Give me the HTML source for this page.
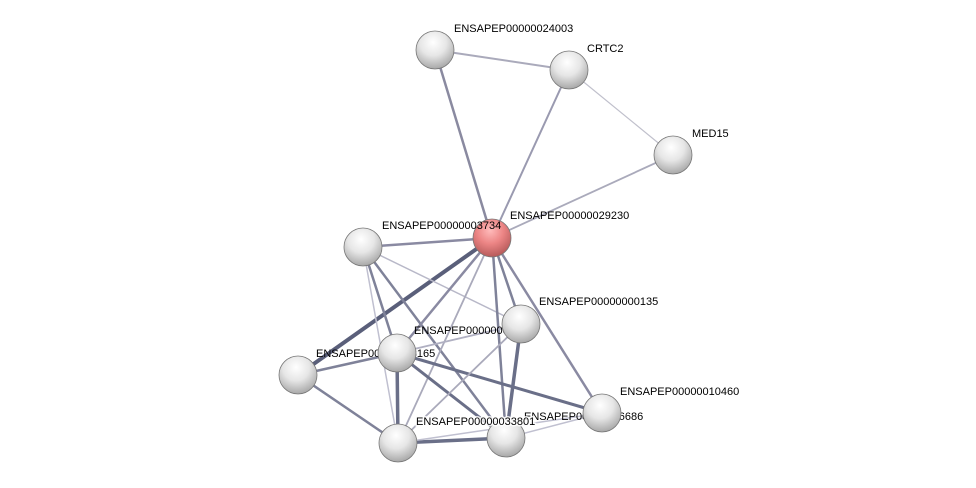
<!DOCTYPE html>
<html><head><meta charset="utf-8"><style>
html,body{margin:0;padding:0;background:#fff;}
svg{display:block;}
text{font-family:"Liberation Sans",sans-serif;font-size:11px;fill:#000;}
.h{stroke:#fff;stroke-width:3px;paint-order:stroke;stroke-opacity:0.85;}
</style></head><body>
<svg width="976" height="488" viewBox="0 0 976 488" xmlns="http://www.w3.org/2000/svg">
<defs>
<radialGradient id="g" cx="45%" cy="30%" r="70%">
<stop offset="0" stop-color="#ffffff"/><stop offset="0.5" stop-color="#e6e6e6"/><stop offset="1" stop-color="#a8a8a8"/>
</radialGradient>
<radialGradient id="r" cx="45%" cy="30%" r="70%">
<stop offset="0" stop-color="#fbb"/><stop offset="0.5" stop-color="#ec8585"/><stop offset="1" stop-color="#b65a5a"/>
</radialGradient>
</defs>
<g stroke-linecap="round">
<line x1="435" y1="50" x2="569" y2="70" stroke="#aaaabb" stroke-width="2"/>
<line x1="435" y1="50" x2="492" y2="238" stroke="#8a8aa0" stroke-width="2.5"/>
<line x1="569" y1="70" x2="492" y2="238" stroke="#9a9ab0" stroke-width="2"/>
<line x1="569" y1="70" x2="673" y2="155" stroke="#c0c0cc" stroke-width="1.2"/>
<line x1="673" y1="155" x2="492" y2="238" stroke="#aaaabb" stroke-width="1.8"/>
<line x1="363" y1="247" x2="492" y2="238" stroke="#8a8aa2" stroke-width="2.5"/>
<line x1="298" y1="375" x2="492" y2="238" stroke="#5a5f7a" stroke-width="4"/>
<line x1="363" y1="247" x2="521" y2="324" stroke="#b8b8c8" stroke-width="1.5"/>
<line x1="363" y1="247" x2="397" y2="353" stroke="#7f8299" stroke-width="2.5"/>
<line x1="363" y1="247" x2="398" y2="443" stroke="#c0c0d0" stroke-width="1.5"/>
<line x1="363" y1="247" x2="506" y2="438" stroke="#7f8299" stroke-width="2.5"/>
<line x1="492" y1="238" x2="397" y2="353" stroke="#8a8aa2" stroke-width="2.5"/>
<line x1="492" y1="238" x2="398" y2="443" stroke="#aaaabb" stroke-width="1.8"/>
<line x1="492" y1="238" x2="506" y2="438" stroke="#7f8299" stroke-width="2.5"/>
<line x1="492" y1="238" x2="521" y2="324" stroke="#7f8299" stroke-width="2.5"/>
<line x1="492" y1="238" x2="602" y2="413" stroke="#8a8aa2" stroke-width="2.5"/>
<line x1="397" y1="353" x2="521" y2="324" stroke="#b0b0c2" stroke-width="1.8"/>
<line x1="298" y1="375" x2="397" y2="353" stroke="#7f8299" stroke-width="2.5"/>
<line x1="298" y1="375" x2="398" y2="443" stroke="#7f8299" stroke-width="2.5"/>
<line x1="397" y1="353" x2="398" y2="443" stroke="#6a6f88" stroke-width="3.5"/>
<line x1="397" y1="353" x2="506" y2="438" stroke="#6a6f88" stroke-width="3"/>
<line x1="397" y1="353" x2="602" y2="413" stroke="#6a6f88" stroke-width="3"/>
<line x1="521" y1="324" x2="506" y2="438" stroke="#6a6f88" stroke-width="3.5"/>
<line x1="521" y1="324" x2="398" y2="443" stroke="#aaaabb" stroke-width="1.8"/>
<line x1="398" y1="443" x2="506" y2="438" stroke="#6a6f88" stroke-width="3.5"/>
<line x1="398" y1="443" x2="602" y2="413" stroke="#c0c0d0" stroke-width="1.5"/>
<line x1="506" y1="438" x2="602" y2="413" stroke="#c0c0d0" stroke-width="1.5"/>
</g>
<text x="454" y="32">ENSAPEP00000024003</text>
<text x="587" y="52">CRTC2</text>
<text x="692" y="137">MED15</text>
<text x="539" y="305">ENSAPEP00000000135</text>
<text x="414" y="334">ENSAPEP00000000143</text>
<text x="316" y="357">ENSAPEP00000008165</text>
<text x="620" y="395">ENSAPEP00000010460</text>
<text x="524" y="420" fill="#888">ENSAPEP00000016686</text>
<g stroke="#777" stroke-width="0.8">
<circle cx="435" cy="50" r="19" fill="url(#g)"/>
<circle cx="569" cy="70" r="19" fill="url(#g)"/>
<circle cx="673" cy="155" r="19" fill="url(#g)"/>
<circle cx="363" cy="247" r="19" fill="url(#g)"/>
<circle cx="492" cy="238" r="19" fill="url(#r)"/>
<circle cx="521" cy="324" r="19" fill="url(#g)"/>
<circle cx="298" cy="375" r="19" fill="url(#g)"/>
<circle cx="397" cy="353" r="19" fill="url(#g)"/>
<circle cx="398" cy="443" r="19" fill="url(#g)"/>
<circle cx="602" cy="413" r="19" fill="url(#g)"/>
<circle cx="506" cy="438" r="19" fill="url(#g)"/>
</g>
<text class="h" x="416" y="425">ENSAPEP00000033801</text>
<text x="382" y="229">ENSAPEP00000003734</text>
<text x="510" y="219">ENSAPEP00000029230</text>
</svg>
</body></html>
